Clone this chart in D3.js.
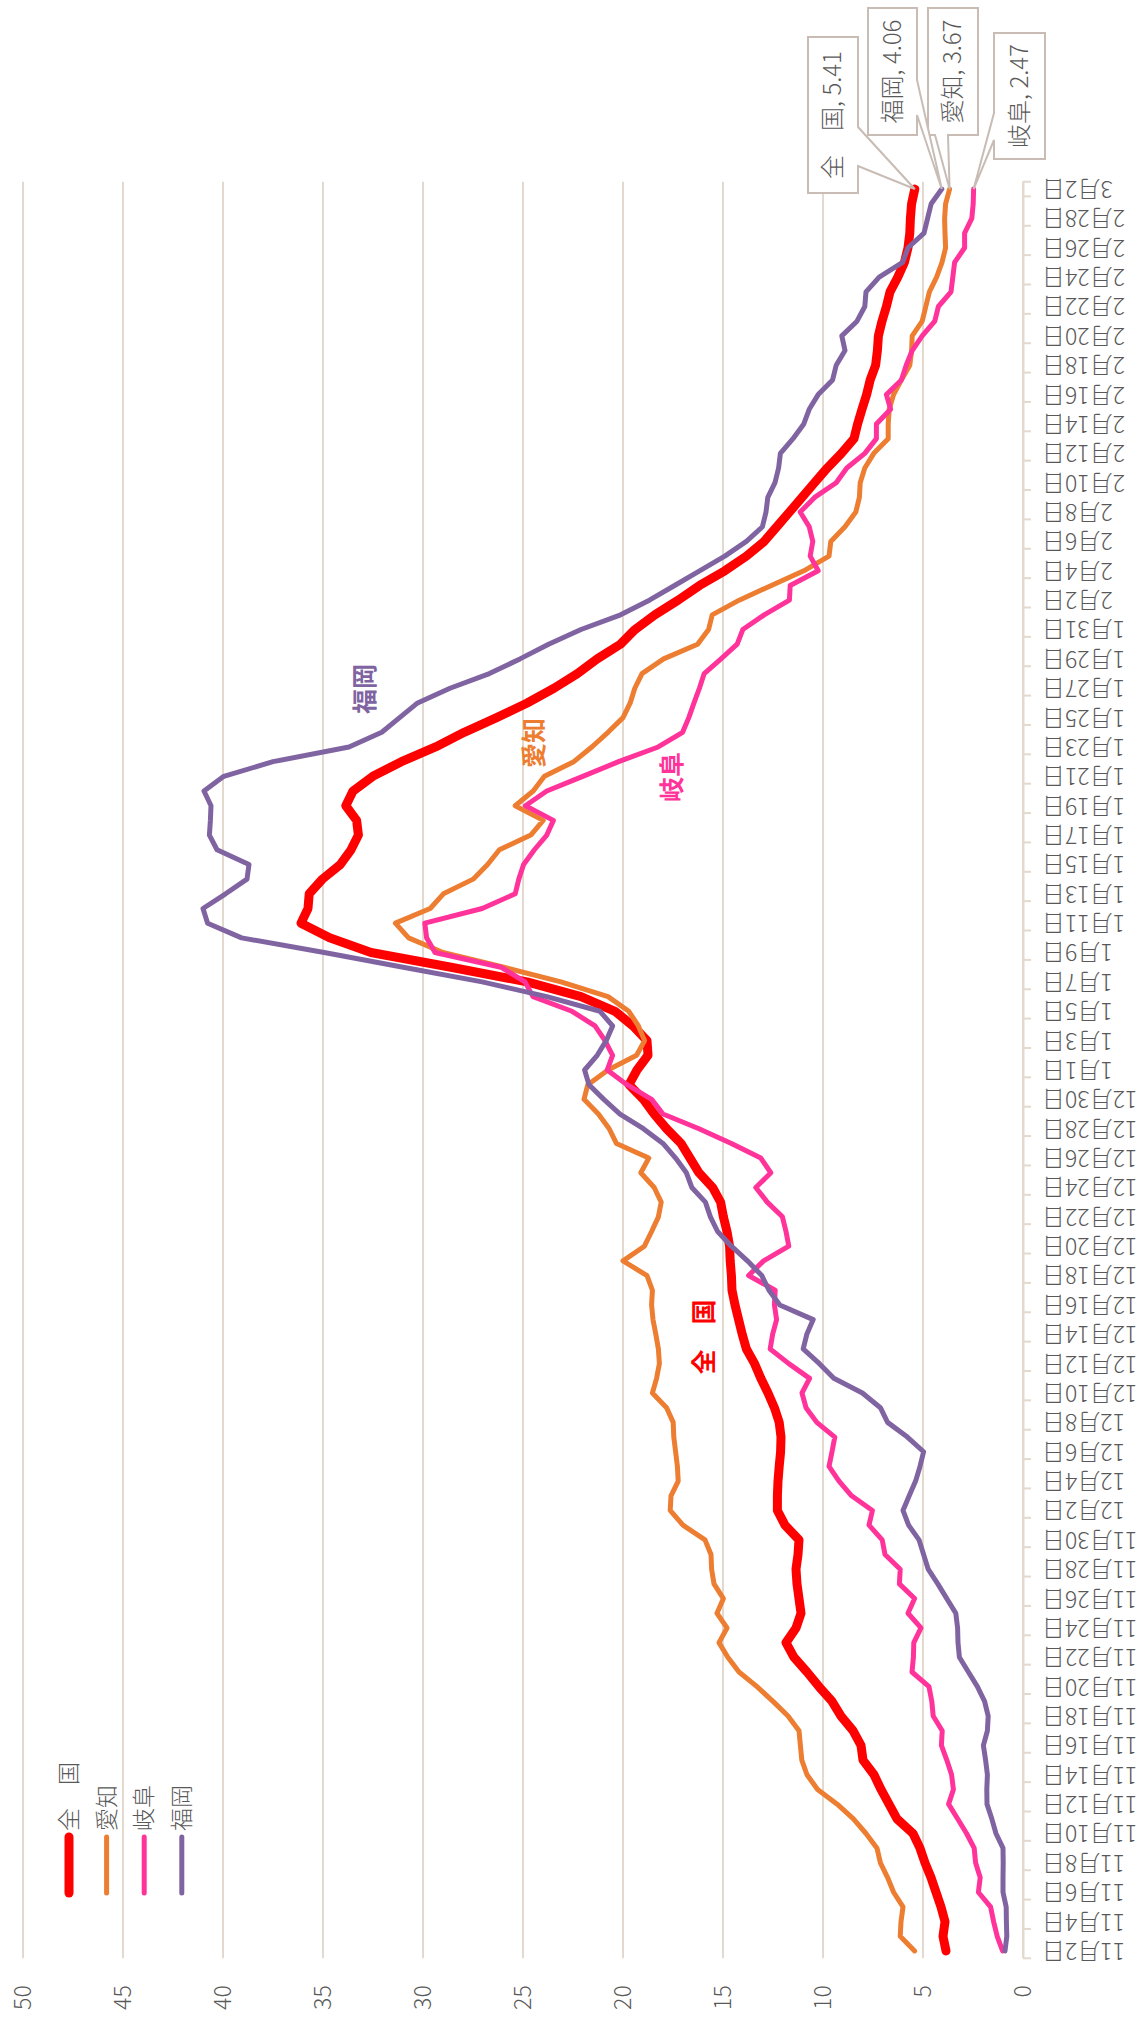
<!DOCTYPE html>
<html>
<head>
<meta charset="utf-8">
<script src="https://cdn.jsdelivr.net/npm/d3@7"></script>
<style>
  html, body { margin: 0; padding: 0; background: #fff; }
  svg { display: block; font-family: "Noto Sans CJK JP", "Noto Sans", sans-serif; }
</style>
</head>
<body>
<svg id="chart" width="1144" height="2017"></svg>
<script>
// categories: every day from 11月2日 to 3月2日
const days = d3.timeDay.range(new Date(2020, 10, 2), new Date(2021, 2, 3));
const dayLabels = days.map(d => `${d.getMonth() + 1}月${d.getDate()}日`);

const seriesNames = ['全　国', '愛知', '岐阜', '福岡'];
const valueTicks = [0, 5, 10, 15, 20, 25, 30, 35, 40, 45, 50];

const zenkoku = [
  3.85, 4.0, 3.9, 4.1, 4.35, 4.6, 4.9, 5.15, 5.5, 6.3,
  6.7, 7.1, 7.45, 8.0, 8.1, 8.5, 9.1, 9.55, 10.2, 10.8,
  11.45, 11.85, 11.35, 11.1, 11.2, 11.3, 11.35, 11.25, 11.2, 11.9,
  12.28, 12.28, 12.25, 12.19, 12.12, 12.1, 12.19, 12.43, 12.75, 13.11,
  13.42, 13.83, 14.04, 14.22, 14.4, 14.55, 14.58, 14.64, 14.67, 14.8,
  14.98, 15.12, 15.52, 16.2, 16.65, 17.1, 17.82, 18.44, 18.98, 19.7,
  19.3, 18.75, 18.8, 19.5, 20.4, 22.1, 24.8, 28.6, 32.6, 34.67,
  36.1, 35.75, 35.69, 35.03, 34.13, 33.6, 33.23, 33.32, 33.86, 33.5,
  32.51, 31.08, 29.37, 27.94, 26.32, 24.79, 23.45, 22.28, 21.29, 20.13,
  19.4, 18.41, 17.24, 16.17, 14.91, 13.83, 12.94, 12.31, 11.68, 11.05,
  10.42, 9.79, 9.08, 8.45, 8.27, 8.05, 7.82, 7.64, 7.37, 7.28,
  7.23, 7.05, 6.83, 6.65, 6.26, 5.93, 5.75, 5.66, 5.63, 5.57,
  5.41
];
const aichi = [
  5.42, 6.14, 6.1, 6.0, 6.47, 6.77, 7.13, 7.3, 7.85, 8.48,
  9.29, 10.27, 10.8, 11.06, 11.13, 11.2, 11.75, 12.5, 13.3, 14.2,
  14.76, 15.2, 14.8, 15.3, 14.98, 15.45, 15.57, 15.6, 15.9, 17.0,
  17.64, 17.6, 17.24, 17.28, 17.37, 17.46, 17.49, 17.82, 18.53, 18.32,
  18.18, 18.23, 18.36, 18.5, 18.57, 18.53, 18.8, 20.0, 18.93, 18.57,
  18.23, 18.09, 18.44, 19.11, 18.71, 20.33, 20.69, 21.23, 21.95, 21.76,
  20.75, 19.32, 18.92, 19.23, 19.71, 20.75, 23.1, 25.96, 29.0, 30.72,
  31.38, 29.64, 28.98, 27.49, 26.77, 26.18, 24.61, 23.99, 25.39, 24.49,
  23.93, 22.46, 21.56, 20.75, 20.0, 19.64, 19.41, 19.05, 17.97, 16.27,
  15.72, 15.54, 14.19, 12.58, 10.96, 9.7, 9.61, 8.9, 8.36, 8.18,
  8.14, 7.91, 7.46, 6.74, 6.74, 6.69, 6.47, 6.08, 5.66, 5.57,
  5.54, 5.04, 4.86, 4.68, 4.32, 4.05, 3.87, 3.9, 3.92, 3.87,
  3.67
];
const gifu = [
  1.02, 1.29, 1.47, 1.62, 2.23, 2.14, 2.37, 2.44, 2.82, 3.27,
  3.72, 3.48, 3.57, 3.81, 4.08, 4.04, 4.49, 4.56, 4.7, 5.55,
  5.48, 5.46, 5.1, 5.75, 5.42, 6.18, 6.14, 6.9, 7.04, 7.7,
  7.53, 8.57, 9.2, 9.7, 9.55, 9.41, 10.31, 10.85, 11.05, 10.67,
  11.71, 12.64, 12.52, 12.32, 12.43, 12.39, 13.72, 12.97, 11.71, 11.85,
  12.03, 12.79, 13.36, 12.61, 13.11, 14.58, 16.2, 18.0, 18.57, 19.8,
  20.79, 20.52, 20.9, 21.4, 22.55, 24.5, 24.9, 26.1, 29.4, 29.82,
  29.91, 27.04, 25.39, 25.21, 24.97, 24.43, 23.81, 23.48, 24.88, 23.81,
  22.01, 20.22, 18.24, 17.02, 16.71, 16.45, 16.18, 15.94, 15.1, 14.29,
  14.01, 12.94, 11.68, 11.64, 10.24, 10.64, 10.51, 10.69, 11.14, 10.42,
  9.34, 8.81, 7.91, 7.33, 7.33, 6.62, 6.83, 6.08, 5.84, 5.54,
  5.04, 4.41, 4.23, 3.6, 3.51, 3.42, 2.92, 2.92, 2.56, 2.49,
  2.47
];
const fukuoka = [
  0.9, 0.81, 0.83, 0.84, 1.0, 1.0, 0.99, 1.0, 1.35, 1.56,
  1.8, 1.81, 1.78, 1.87, 1.98, 1.78, 1.74, 1.92, 2.28, 2.73,
  3.18, 3.25, 3.27, 3.36, 3.81, 4.26, 4.74, 4.97, 5.2, 5.72,
  6.0, 5.69, 5.37, 5.15, 4.97, 5.78, 6.77, 7.13, 8.03, 9.46,
  10.18, 10.99, 10.81, 10.49, 12.16, 12.7, 13.06, 13.78, 14.58, 15.27,
  15.63, 15.88, 16.56, 16.83, 17.37, 18.0, 18.98, 20.15, 20.96, 21.7,
  21.92, 21.29, 20.84, 20.52, 21.15, 23.81, 27.04, 30.99, 34.94, 39.07,
  40.77, 41.0, 39.87, 38.8, 38.7, 40.3, 40.68, 40.63, 40.6, 40.95,
  39.96, 37.5, 33.7, 32.06, 31.17, 30.27, 28.65, 26.68, 25.15, 23.72,
  22.1, 20.12, 18.68, 17.42, 16.17, 14.91, 13.83, 13.03, 12.85, 12.76,
  12.4, 12.22, 12.13, 11.5, 10.96, 10.69, 10.24, 9.52, 9.34, 8.9,
  9.06, 8.3, 7.91, 7.85, 7.19, 6.02, 5.75, 4.95, 4.77, 4.59,
  4.06
];

const seriesData = [zenkoku, aichi, gifu, fukuoka];
const seriesColors = ['#FF0000', '#ED7D31', '#FF3399', '#8064A2'];
const seriesWidths = [9, 5, 5, 5];

// the chart is drawn unrotated (W x H) and then turned a quarter left
const W = 2017, H = 1144;
const plot = {left: 58.7, right: 1835.3, top: 23, bottom: 1023};
const gridColor = '#E3D9CF';
const textColor = '#595959';
const boxStroke = '#C8BCB5';

// callout boxes and inline names, in unrotated chart pixels
const callouts = [
  {x0: 1824, x1: 1980, y0: 808, y1: 858, side: 'bottom', w0: 1851, w1: 1890},
  {x0: 1882, x1: 2009, y0: 928, y1: 978, side: 'left', w0: 935, w1: 948},
  {x0: 1858, x1: 1984, y0: 994, y1: 1045, side: 'top', w0: 1877, w1: 1904},
  {x0: 1882, x1: 2009, y0: 868, y1: 917, side: 'bottom', w0: 1902, w1: 1937}
];
const inlineLabels = [
  {x: 680, y: 704},
  {x: 1274, y: 534},
  {x: 1240, y: 672},
  {x: 1328, y: 365}
];

const svg = d3.select('#chart');
svg.append('rect').attr('width', 1144).attr('height', 2017).attr('fill', '#fff');

const g = svg.append('g')
  .attr('transform', `translate(0,${W}) rotate(-90)`);

const x = d3.scaleBand()
  .domain(dayLabels)
  .range([plot.left, plot.right])
  .padding(0);
const y = d3.scaleLinear()
  .domain([0, 50])
  .range([plot.bottom, plot.top]);

// gridlines
g.append('g')
  .selectAll('line')
  .data(valueTicks)
  .join('line')
  .attr('x1', plot.left)
  .attr('x2', plot.right)
  .attr('y1', d => y(d))
  .attr('y2', d => y(d))
  .attr('stroke', gridColor)
  .attr('stroke-width', 2);

// value axis
const gy = g.append('g')
  .attr('transform', `translate(${plot.left},0)`)
  .call(d3.axisLeft(y).tickValues(valueTicks).tickSize(0).tickPadding(27));
gy.attr('font-size', null).attr('font-family', null);
gy.select('.domain').remove();
gy.selectAll('text')
  .attr('font-size', 23)
  .attr('font-weight', 300)
  .attr('fill', textColor);

// date axis: labels every 2 days, ticks on every second boundary
const gx = g.append('g')
  .attr('transform', `translate(0,${plot.bottom})`)
  .call(d3.axisBottom(x)
    .tickValues(dayLabels.filter((d, i) => i % 2 === 0))
    .tickSize(0)
    .tickSizeOuter(0));
gx.attr('font-size', null).attr('font-family', null);
gx.select('.domain').attr('stroke', gridColor).attr('stroke-width', 2);
gx.selectAll('text')
  .attr('y', 0)
  .attr('dy', '0.35em')
  .attr('transform', 'translate(0,19) rotate(-90)')
  .attr('text-anchor', 'end')
  .attr('font-size', 23)
  .attr('font-weight', 300)
  .attr('fill', textColor);

const boundaries = d3.range(0, dayLabels.length + 1)
  .filter(k => k % 2 === 0 || k === dayLabels.length);
gx.append('g')
  .selectAll('line')
  .data(boundaries)
  .join('line')
  .attr('x1', k => plot.left + k * x.step())
  .attr('x2', k => plot.left + k * x.step())
  .attr('y1', 0)
  .attr('y2', 8)
  .attr('stroke', gridColor)
  .attr('stroke-width', 2);

// series
const line = d3.line()
  .x((d, i) => x(dayLabels[i]) + x.bandwidth() / 2)
  .y(d => y(d));

g.append('g')
  .selectAll('path')
  .data(seriesData)
  .join('path')
  .attr('d', d => line(d))
  .attr('fill', 'none')
  .attr('stroke', (d, i) => seriesColors[i])
  .attr('stroke-width', (d, i) => seriesWidths[i])
  .attr('stroke-linejoin', 'round')
  .attr('stroke-linecap', 'round');

// legend
const legend = g.append('g');
seriesNames.forEach((name, i) => {
  const ly = 69 + i * 37.6;
  legend.append('line')
    .attr('x1', 124)
    .attr('x2', 180)
    .attr('y1', ly)
    .attr('y2', ly)
    .attr('stroke', seriesColors[i])
    .attr('stroke-width', seriesWidths[i])
    .attr('stroke-linecap', 'round');
  legend.append('text')
    .attr('x', 186)
    .attr('y', ly)
    .attr('dy', '0.35em')
    .attr('font-size', 23)
    .attr('font-weight', 300)
    .attr('fill', textColor)
    .text(name);
});

// callouts with the last value of each series
const last = dayLabels.length - 1;
const tipX = x(dayLabels[last]) + x.bandwidth() / 2;
callouts.forEach((c, i) => {
  const tip = [tipX, y(seriesData[i][last])];
  let pts;
  if (c.side === 'bottom') {
    pts = [[c.x0, c.y0], [c.x1, c.y0], [c.x1, c.y1], [c.w1, c.y1], tip, [c.w0, c.y1], [c.x0, c.y1]];
  } else if (c.side === 'left') {
    pts = [[c.x0, c.y0], [c.x1, c.y0], [c.x1, c.y1], [c.x0, c.y1], [c.x0, c.w1], tip, [c.x0, c.w0]];
  } else {
    pts = [[c.x0, c.y0], [c.w0, c.y0], tip, [c.w1, c.y0], [c.x1, c.y0], [c.x1, c.y1], [c.x0, c.y1]];
  }
  g.append('path')
    .attr('d', 'M' + pts.map(p => p.join(',')).join('L') + 'Z')
    .attr('fill', '#fff')
    .attr('stroke', boxStroke)
    .attr('stroke-width', 2)
    .attr('stroke-linejoin', 'miter');
  g.append('text')
    .attr('x', (c.x0 + c.x1) / 2)
    .attr('y', (c.y0 + c.y1) / 2)
    .attr('dy', '0.35em')
    .attr('text-anchor', 'middle')
    .attr('font-size', 24)
    .attr('font-weight', 300)
    .attr('fill', textColor)
    .text(`${seriesNames[i]}, ${seriesData[i][last].toFixed(2)}`);
});

// names written next to the lines
inlineLabels.forEach((p, i) => {
  g.append('text')
    .attr('x', p.x)
    .attr('y', p.y)
    .attr('dy', '0.35em')
    .attr('text-anchor', 'middle')
    .attr('font-size', 25)
    .attr('font-weight', 'bold')
    .attr('fill', seriesColors[i])
    .text(seriesNames[i]);
});
</script>
</body>
</html>
